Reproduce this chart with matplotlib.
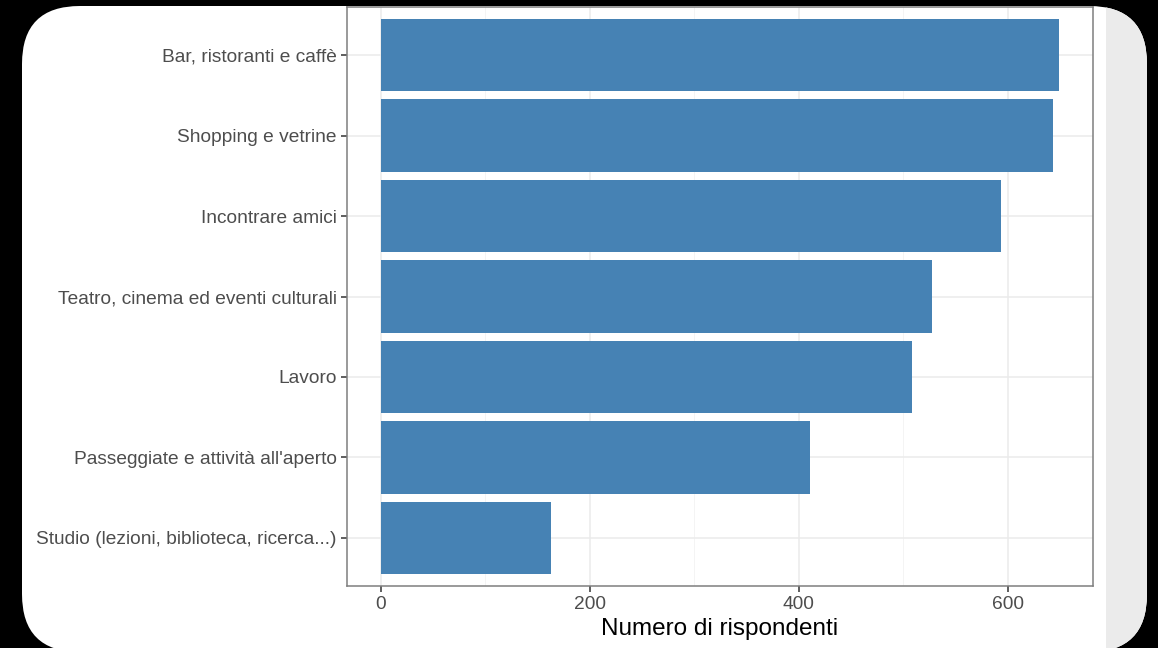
import matplotlib
matplotlib.use("Agg")
import matplotlib.pyplot as plt
from matplotlib.patches import FancyBboxPatch, Rectangle
from matplotlib.ticker import MultipleLocator

categories = [
    "Bar, ristoranti e caffè",
    "Shopping e vetrine",
    "Incontrare amici",
    "Teatro, cinema ed eventi culturali",
    "Lavoro",
    "Passeggiate e attività all'aperto",
    "Studio (lezioni, biblioteca, ricerca...)",
]
values = [649, 643, 593, 527, 508, 411, 163]
x_ticks = [0, 200, 400, 600]
x_label = "Numero di rispondenti"

W, H = 1158, 648
plt.rcParams['font.family'] = ['Liberation Sans', 'DejaVu Sans']
fig = plt.figure(figsize=(W / 100, H / 100), dpi=100)
fig.patch.set_facecolor('black')

# white rounded card
card = FancyBboxPatch((22 / W, (H - 652) / H), (1147 - 22) / W, (652 - 6) / H,
                      boxstyle="round,pad=0,rounding_size=0.05",
                      transform=fig.transFigure, facecolor='white',
                      edgecolor='none', mutation_aspect=W / H, zorder=0)
fig.patches.append(card)
strip = Rectangle((1106 / W, 0), (1150 - 1106) / W, 1, transform=fig.transFigure,
                  facecolor='#ebebeb', edgecolor='none', zorder=0.5)
strip.set_clip_path(card)
fig.patches.append(strip)

left, right, top, bottom = 347, 1093, 7, 586
ax = fig.add_axes([left / W, (H - bottom) / H, (right - left) / W, (bottom - top) / H])
ax.set_zorder(5)
ax.set_facecolor('white')

n = len(categories)
ypos = list(range(n))[::-1]
ax.barh(ypos, values, height=0.9, color='#4682b4', zorder=3)
ax.set_yticks(ypos)
ax.set_yticklabels(categories)
ax.set_ylim(-0.6, n - 1 + 0.6)
vmax = max(values)
ax.set_xlim(-0.05 * vmax, vmax * 1.05)
ax.set_xticks(x_ticks)
ax.xaxis.set_minor_locator(MultipleLocator(100))
ax.grid(True, which='major', color='#ebebeb', linewidth=1.1, zorder=0)
ax.grid(True, which='minor', axis='x', color='#f2f2f2', linewidth=0.6, zorder=0)
ax.set_axisbelow(True)
for s in ax.spines.values():
    s.set_color('#7f7f7f')
    s.set_linewidth(1.1)
ax.tick_params(axis='both', which='major', colors='#333333', labelcolor='#4d4d4d',
               labelsize=13.8, length=4, width=1.1, pad=3.5)
ax.tick_params(axis='x', which='minor', length=0)
ax.set_xlabel(x_label, fontsize=17.5, color='black', labelpad=3)

fig.savefig("out.png", dpi=100, facecolor=fig.get_facecolor())
